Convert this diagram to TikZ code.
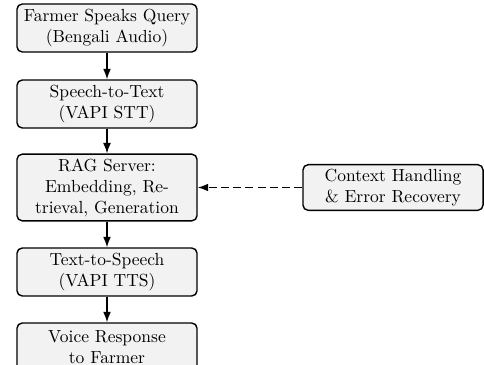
\documentclass[tikz,border=0pt]{standalone}
\usetikzlibrary{arrows.meta}
\begin{document}
\begin{tikzpicture}[x=0.5714pt,y=-0.5714pt,
  box/.style={draw, thick, rounded corners=3pt, fill=gray!10, align=center,
    minimum width=102.9pt, minimum height=27.4pt, inner ysep=2.5pt, font=\normalsize},
  arr/.style={thick, -{Latex[length=6pt,width=4.5pt]}},
  darr/.style={thick, dash pattern=on 4.5pt off 2.5pt, -{Latex[length=6pt,width=4.5pt]}}]
\useasboundingbox (0,0) rectangle (484,364);
\begin{scope}
\clip (0,0) rectangle (484,364);
\node[box] (a) at (107,28) {Farmer Speaks Query\\(Bengali Audio)};
\node[box] (b) at (107,104) {Speech-to-Text\\(VAPI STT)};
\node[box] (c) at (107,187.5) {RAG Server:\\Embedding, Re-\\trieval, Generation};
\node[box] (d) at (107,272) {Text-to-Speech\\(VAPI TTS)};
\node[box] (e) at (107,347) {Voice Response\\to Farmer};
\node[box, minimum height=25.7pt] (f) at (393,187.5) {Context Handling\\\& Error Recovery};
\draw[arr] (a) -- (b);
\draw[arr] (b) -- (c);
\draw[arr] (c) -- (d);
\draw[arr] (d) -- (e);
\draw[darr] (f) -- (c);
\end{scope}
\end{tikzpicture}
\end{document}
